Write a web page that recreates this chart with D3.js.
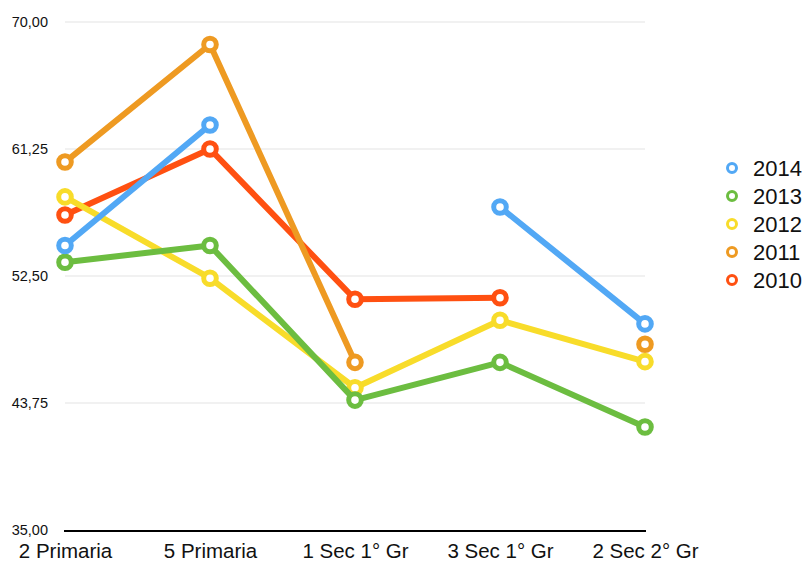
<!DOCTYPE html>
<html>
<head>
<meta charset="utf-8">
<script src="https://cdn.jsdelivr.net/npm/d3@7"></script>
<style>
  html, body { margin: 0; padding: 0; background: #fff; }
  svg { display: block; font-family: "Liberation Sans", Arial, Helvetica, sans-serif; }
</style>
</head>
<body>
<svg id="chart" width="806" height="564"></svg>
<script>
const categories = ["2 Primaria", "5 Primaria", "1 Sec 1° Gr", "3 Sec 1° Gr", "2 Sec 2° Gr"];
const seriesNames = ["2014", "2013", "2012", "2011", "2010"];
const seriesColors = ["#52a8f5", "#6cbd40", "#f8dc2a", "#ee9a22", "#ff5011"];
const values2014 = [54.6, 62.9, null, 57.25, 49.2];
const values2013 = [53.45, 54.6, 43.95, 46.55, 42.1];
const values2012 = [57.95, 52.35, 44.8, 49.45, 46.6];
const values2011 = [60.35, 68.45, 46.55, null, 47.8];
const values2010 = [56.7, 61.25, 50.9, 51.0, null];
const seriesValues = [values2014, values2013, values2012, values2011, values2010];
const yTicks = [35, 43.75, 52.5, 61.25, 70];

const svg = d3.select("#chart");
const x = d3.scalePoint().domain(categories).range([65, 645]);
const y = d3.scaleLinear().domain([35, 70]).range([530, 22]);
const fmt = v => v.toFixed(2).replace(".", ",");

// gridlines
svg.append("g").selectAll("line").data(yTicks.filter(t => t !== 35)).join("line")
  .attr("x1", 65).attr("x2", 645)
  .attr("y1", d => y(d)).attr("y2", d => y(d))
  .attr("stroke", "#e3e3e3").attr("stroke-width", 1);

// y-axis labels
const yAxis = d3.axisLeft(y).tickValues(yTicks).tickFormat(fmt).tickSize(0).tickPadding(0);
const gy = svg.append("g").attr("transform", "translate(48,0)").call(yAxis);
gy.select(".domain").remove();
gy.selectAll("text").attr("font-size", 14.5).attr("fill", "#111")
  .attr("font-family", "'Liberation Sans', Arial, sans-serif");

// x-axis
const xAxis = d3.axisBottom(x).tickSize(0).tickPadding(0);
const gx = svg.append("g").attr("transform", "translate(0,543)").call(xAxis);
gx.select(".domain").remove();
gx.selectAll("text").attr("font-size", 20.5).attr("fill", "#111").attr("dy", "0.72em")
  .attr("font-family", "'Liberation Sans', Arial, sans-serif");

svg.append("line").attr("x1", 64).attr("x2", 646)
  .attr("y1", y(35) + 1).attr("y2", y(35) + 1)
  .attr("stroke", "#000").attr("stroke-width", 2);

// series (draw 2010 first, 2014 last)
const order = d3.range(seriesNames.length).reverse();
const line = d3.line()
  .defined(d => d.v !== null)
  .x(d => x(d.c)).y(d => y(d.v));

order.forEach(i => {
  const data = categories.map((c, j) => ({ c, v: seriesValues[i][j] }));
  const g = svg.append("g");
  g.append("path").datum(data).attr("d", line)
    .attr("fill", "none").attr("stroke", seriesColors[i])
    .attr("stroke-width", 6).attr("stroke-linejoin", "round");
  g.selectAll("circle").data(data.filter(d => d.v !== null)).join("circle")
    .attr("cx", d => x(d.c)).attr("cy", d => y(d.v)).attr("r", 6.3)
    .attr("fill", "#fff").attr("stroke", seriesColors[i]).attr("stroke-width", 5);
});

// legend
const legend = svg.append("g");
seriesNames.forEach((name, i) => {
  const cy = 168 + i * 28;
  legend.append("circle").attr("cx", 732).attr("cy", cy).attr("r", 4.5)
    .attr("fill", "#fff").attr("stroke", seriesColors[i]).attr("stroke-width", 3);
  legend.append("text").attr("x", 753).attr("y", cy + 8)
    .attr("font-size", 22).attr("fill", "#111").text(name);
});
</script>
</body>
</html>
